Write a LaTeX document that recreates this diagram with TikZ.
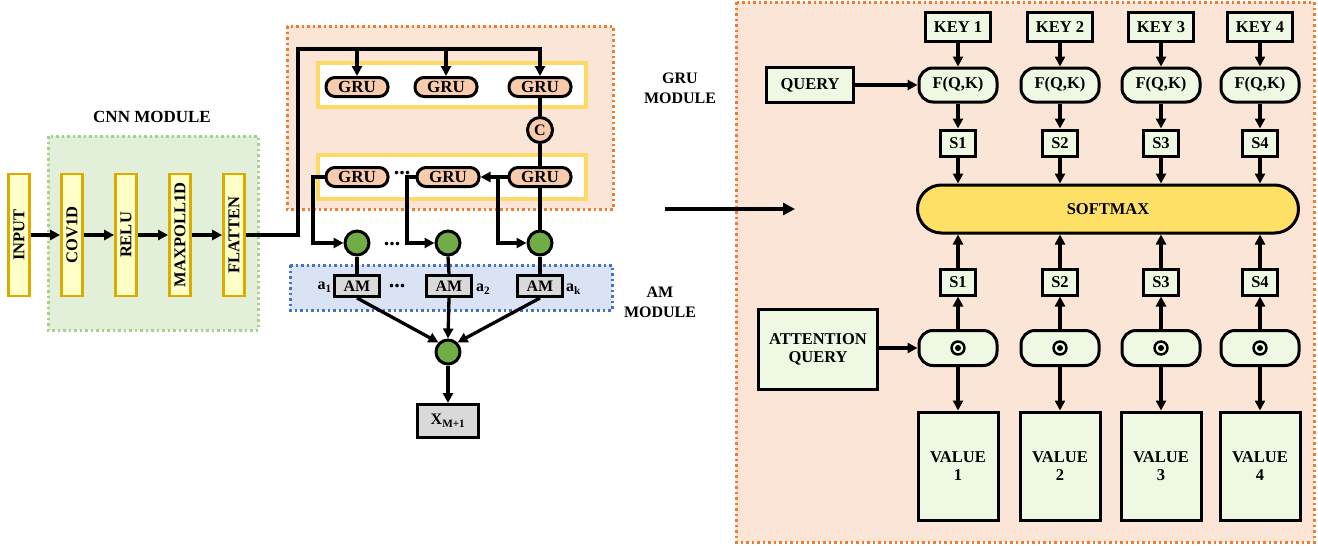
\documentclass[tikz,border=0pt]{standalone}
\usepackage{fontspec}
\setmainfont{Liberation Serif}
\usetikzlibrary{arrows.meta,calc}

\definecolor{peach}{HTML}{FBE5D6}
\definecolor{peachline}{HTML}{ED7D31}
\definecolor{grufill}{HTML}{F8CBAD}
\definecolor{yellowline}{HTML}{FFD966}
\definecolor{cnnfill}{HTML}{E2F0D9}
\definecolor{cnnline}{HTML}{A9D18E}
\definecolor{amfill}{HTML}{DAE3F3}
\definecolor{amline}{HTML}{4472C4}
\definecolor{nodegreen}{HTML}{70AD47}
\definecolor{mintfill}{HTML}{EEF8E3}
\definecolor{softfill}{HTML}{FFE066}
\definecolor{barfill}{HTML}{FFFFC8}
\definecolor{barline}{HTML}{DDAA00}
\definecolor{boxgray}{HTML}{D9D9D9}

\tikzset{
  every node/.style={font=\bfseries},
  wire/.style={line width=3.3pt, black},
  arr/.style={wire, -{Triangle[length=10pt,width=10pt]}},
  bar/.style={draw=barline, line width=2.8pt, fill=barfill, minimum height=21pt,
              minimum width=122pt, inner sep=0pt, rotate=90,
              font=\bfseries\fontsize{16.5}{18}\selectfont},
  grupill/.style={draw, line width=3pt, fill=grufill, rounded corners=9pt,
              minimum width=62pt, minimum height=19pt, inner sep=0pt,
              font=\bfseries\fontsize{17}{18}\selectfont},
  dotcirc/.style={circle, draw, line width=3pt, minimum size=24pt, inner sep=0pt},
  ambox/.style={draw, line width=3pt, fill=boxgray, minimum width=45pt,
              minimum height=21pt, inner sep=0pt,
              font=\bfseries\fontsize{16}{18}\selectfont},
  sqbox/.style={draw, line width=3pt, fill=mintfill, inner sep=0pt,
              font=\bfseries\fontsize{16.5}{18}\selectfont, align=center},
  fpill/.style={draw, line width=3pt, fill=mintfill, rounded corners=14pt,
              minimum width=78pt, minimum height=34pt, inner sep=0pt,
              font=\bfseries\fontsize{16.5}{18}\selectfont},
  lbl/.style={font=\bfseries\fontsize{16}{18}\selectfont, align=center, inner sep=0pt},
  dots/.style={font=\bfseries\fontsize{22}{22}\selectfont, inner sep=0pt, anchor=base},
}

\begin{document}
\begin{tikzpicture}[x=1pt, y=-1pt]
\useasboundingbox (0,0) rectangle (1318,546);

% ---------- panel backgrounds ----------
\fill[cnnfill] (48,136) rectangle (258,330);
\draw[cnnline, line width=3pt, dash pattern=on 2.5pt off 3pt] (48,136) rectangle (258,330);
\fill[peach] (287,26) rectangle (613,209);
\draw[peachline, line width=3pt, dash pattern=on 2.5pt off 3pt] (287,26) rectangle (613,209);
\draw[yellowline, line width=3.5pt, fill=white] (318,63) rectangle (586,107);
\draw[yellowline, line width=3.5pt, fill=white] (318,155) rectangle (586,199);
\fill[amfill] (290,265) rectangle (612,310);
\draw[amline, line width=3pt, dash pattern=on 2.5pt off 3pt] (290,265) rectangle (612,310);
\fill[peach] (736,2) rectangle (1314,542);
\draw[peachline, line width=3pt, dash pattern=on 2.5pt off 3pt] (736,2) rectangle (1314,542);

% ---------- CNN module ----------
\node[lbl, font=\bfseries\fontsize{17}{18}\selectfont] (cnnlbl) at (152,117) {CNN MODULE};
\node[bar] (input)   at (19,235)  {INPUT};
\node[bar] (conv)    at (72,235)  {COV1D};
\node[bar] (relu)    at (126,235) {RELU};
\node[bar] (maxpool) at (180,235) {MAXPOLL1D};
\node[bar] (flatten) at (234,235) {FLATTEN};
\draw[arr] (input.south)   -- (conv.north);
\draw[arr] (conv.south)    -- (relu.north);
\draw[arr] (relu.south)    -- (maxpool.north);
\draw[arr] (maxpool.south) -- (flatten.north);

% ---------- GRU module ----------
\node[lbl] (grulbl) at (680,88) {GRU\\[2pt]MODULE};
\node[grupill] (gt1) at (357,87) {GRU};
\node[grupill] (gt2) at (446,87) {GRU};
\node[grupill] (gt3) at (540,87) {GRU};
\node[circle, draw, line width=3pt, fill=grufill, minimum size=25pt, inner sep=0pt,
      font=\bfseries\fontsize{16}{18}\selectfont] (cat) at (540,130) {C};
\node[grupill] (gb1) at (357,177) {GRU};
\node[grupill] (gb2) at (448,177) {GRU};
\node[grupill] (gb3) at (540,177) {GRU};
\node[dots] (gdots) at (402,174) {...};

\coordinate (up) at (298,49);
\draw[wire] (flatten.south) -- (298,235) -- (up) -- (540,49);
\draw[arr] (357,49) -- (gt1.north);
\draw[arr] (446,49) -- (gt2.north);
\draw[arr] (540,47.35) -- (gt3.north);
\draw[wire] (gt3.south) -- (cat.north);
\draw[wire] (cat.south) -- (gb3.north);
\draw[arr] (gb3.west) -- (gb2.east);

% ---------- attention module ----------
\node[lbl] (amlbl) at (660,302) {AM\\[2pt]MODULE};
\node[dotcirc, fill=nodegreen] (c1) at (357,243) {};
\node[dotcirc, fill=nodegreen] (c2) at (448,243) {};
\node[dotcirc, fill=nodegreen] (c3) at (540,243) {};
\node[dots] (cdots) at (392,245) {...};
\coordinate (j3) at (498,177);
\draw[arr] (gb1.west) -- (313,177) -- (313,243) -- (c1.west);
\draw[arr] (gb2.west) -- (407,177) -- (407,243) -- (c2.west);
\draw[arr] (j3) -- (498,243) -- (c3.west);
\draw[wire] (gb3.south) -- (c3.north);

\node[ambox] (am1) at (357,286) {AM};
\node[ambox] (am2) at (449,286) {AM};
\node[ambox] (am3) at (540,286) {AM};
\node[lbl, anchor=east] (a1) at (332,287) {a\textsubscript{1}};
\node[lbl, anchor=west] (a2) at (476,289) {a\textsubscript{2}};
\node[lbl, anchor=west] (ak) at (566,289) {a\textsubscript{k}};
\node[dots] (adots) at (397,287) {...};
\draw[wire] (c1.south) -- (am1.north);
\draw[wire] (c2.south) -- (am2.north);
\draw[wire] (c3.south) -- (am3.north);

\node[dotcirc, fill=nodegreen] (sum) at (448,352) {};
\draw[arr] (am1.south) -- (sum.north west);
\draw[arr] (am2.south) -- (sum.north);
\draw[arr] (am3.south) -- (sum.north east);
\node[ambox, minimum width=61pt, minimum height=33pt] (xout) at (448,421) {X\textsubscript{M+1}};
\draw[arr] (sum.south) -- (xout.north);

% ---------- link between panels ----------
\coordinate (la) at (665,209);
\coordinate (lb) at (795,209);
\draw[wire, line width=3.6pt, -{Triangle[length=12pt,width=12pt]}] (la) -- (lb);

% ---------- attention mechanism detail ----------
\node[sqbox, minimum width=87pt, minimum height=35pt] (query) at (810,85) {QUERY};
\node[sqbox, minimum width=119pt, minimum height=80pt] (aquery) at (818,349) {ATTENTION\\QUERY};
\node[draw, line width=3pt, fill=softfill, rounded corners=24pt,
      minimum width=381pt, minimum height=48pt, inner sep=0pt,
      font=\bfseries\fontsize{16.5}{18}\selectfont] (soft) at (1108,209) {SOFTMAX};

\foreach \i/\x in {1/958, 2/1060, 3/1161, 4/1260} {
  \node[sqbox, minimum width=65pt, minimum height=29pt] (key\i) at (\x,27) {KEY \i};
  \node[fpill] (f\i) at (\x,85) {F(Q,K)};
  \node[sqbox, minimum width=35pt, minimum height=26pt] (s\i) at (\x,143) {S\i};
  \node[sqbox, minimum width=35pt, minimum height=26pt] (t\i) at (\x,282) {S\i};
  \node[fpill, minimum height=35pt] (d\i) at (\x,348) {};
  \node[sqbox, minimum width=80pt, minimum height=108pt] (v\i) at (\x,466) {VALUE\\\i};
  \draw[line width=2.4pt] (d\i.center) circle (6.5pt);
  \fill (d\i.center) circle (3pt);
  \draw[arr] (key\i.south) -- (f\i.north);
  \draw[arr] (f\i.south) -- (s\i.north);
  \draw[arr] (s\i.south) -- (soft.north -| s\i.south);
  \draw[arr] (t\i.north) -- (soft.south -| t\i.north);
  \draw[arr] (d\i.north) -- (t\i.south);
  \draw[arr] (d\i.south) -- (v\i.north);
}
\draw[arr] (query.east) -- (f1.west);
\draw[arr] (aquery.east |- d1.west) -- (d1.west);

\end{tikzpicture}
\end{document}
